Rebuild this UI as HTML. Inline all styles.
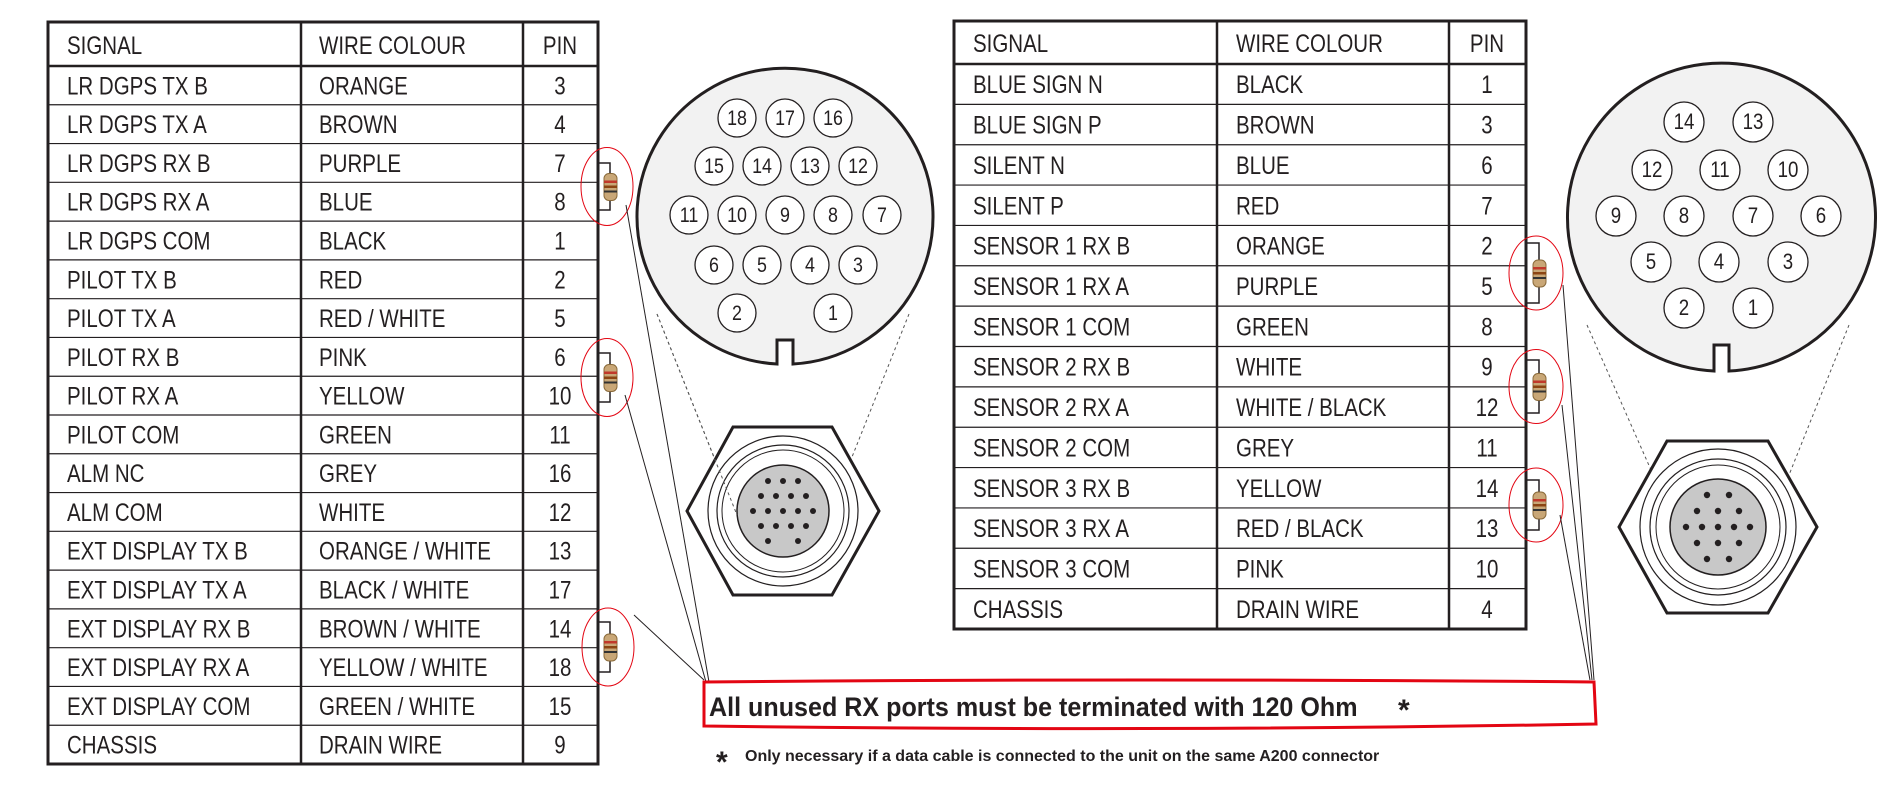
<!DOCTYPE html>
<html><head><meta charset="utf-8"><style>
html,body{margin:0;padding:0;background:#fff}
svg text{font-family:"Liberation Sans",sans-serif;fill:#231f20}
</style></head><body>
<svg width="1881" height="785" viewBox="0 0 1881 785" xmlns="http://www.w3.org/2000/svg">
<defs>
<g id="res">
<rect x="-6" y="-13" width="13" height="27" rx="5" fill="#c9a777" stroke="#8a6a3a" stroke-width="1"/>
<rect x="-6" y="-6" width="13" height="2.5" fill="#c0392b"/>
<rect x="-6" y="-1" width="13" height="2.5" fill="#8b4513"/>
<rect x="-6" y="4" width="13" height="2" fill="#333"/>
</g>
</defs>

<g stroke="#231f20" fill="none">
<rect x="48" y="22" width="550" height="742" stroke-width="3"/>
<line x1="301" y1="22" x2="301" y2="764" stroke-width="2.5"/>
<line x1="523" y1="22" x2="523" y2="764" stroke-width="2.5"/>
<line x1="48" y1="66" x2="598" y2="66" stroke-width="2.5"/>
</g>
<g stroke="#231f20" stroke-width="1.2" id="lrows"></g>
<g font-size="25" id="ltext"></g>

<g stroke="#231f20" fill="none">
<rect x="954" y="21" width="572" height="608" stroke-width="3"/>
<line x1="1217" y1="21" x2="1217" y2="629" stroke-width="2.5"/>
<line x1="1449" y1="21" x2="1449" y2="629" stroke-width="2.5"/>
<line x1="954" y1="64" x2="1526" y2="64" stroke-width="2.5"/>
</g>
<g stroke="#231f20" stroke-width="1.2" id="rrows"></g>
<g font-size="25" id="rtext"></g>

<path d="M777 364 A148 148 0 1 1 793 364 L793 340 L777 340 Z" fill="#f2f2f2" stroke="#231f20" stroke-width="3"/>
<g id="lpins" font-size="21"></g>
<line x1="657" y1="314" x2="737" y2="515" stroke="#555" stroke-width="1" stroke-dasharray="3,3"/>
<line x1="909" y1="314" x2="852" y2="457" stroke="#555" stroke-width="1" stroke-dasharray="3,3"/>
<g transform="translate(783,511)">
<polygon points="-50,-84 49,-84 96,0 49,84 -50,84 -96,0" fill="#fff" stroke="#231f20" stroke-width="3"/>
<circle r="75" fill="#fff" stroke="#231f20" stroke-width="1.2"/>
<circle r="66" fill="none" stroke="#231f20" stroke-width="1.2"/>
<circle r="61" fill="none" stroke="#231f20" stroke-width="1"/>
<ellipse rx="46" ry="46" fill="#c8c8c8" stroke="#231f20" stroke-width="1.5"/>
<g fill="#231f20" id="ldots"></g>
</g>
<line x1="657" y1="314" x2="737" y2="515" stroke="#555" stroke-width="1" stroke-dasharray="3,3"/>

<path d="M1714 371 A154 154 0 1 1 1729 371 L1729 345 L1714 345 Z" fill="#f2f2f2" stroke="#231f20" stroke-width="3"/>
<g id="rpins" font-size="22"></g>
<line x1="1587" y1="325" x2="1651" y2="470" stroke="#555" stroke-width="1" stroke-dasharray="3,3"/>
<line x1="1849" y1="325" x2="1789" y2="475" stroke="#555" stroke-width="1" stroke-dasharray="3,3"/>
<g transform="translate(1718,527)">
<polygon points="-51,-86 50,-86 99,0 50,86 -51,86 -99,0" fill="#fff" stroke="#231f20" stroke-width="3"/>
<circle r="78" fill="#fff" stroke="#231f20" stroke-width="1.2"/>
<circle r="68" fill="none" stroke="#231f20" stroke-width="1.2"/>
<circle r="62" fill="none" stroke="#231f20" stroke-width="1"/>
<circle r="48" fill="#c8c8c8" stroke="#231f20" stroke-width="1.5"/>
<g fill="#231f20" id="rdots"></g>
</g>

<g id="resg" stroke-width="1"></g>

<path d="M704 682 Q1150 678 1594 682 L1596 724 Q1150 732 704 726 Z" fill="#fff" stroke="#e30613" stroke-width="3"/>
<text x="709" y="716" font-size="27" font-weight="bold" fill="#000" transform="translate(709,0) scale(0.93,1) translate(-709,0)">All unused RX ports must be terminated with 120 Ohm</text>
<text x="1398" y="720" font-size="30" font-weight="bold" fill="#000">*</text>
<text x="716" y="772" font-size="30" font-weight="bold" fill="#000">*</text>
<text x="745" y="761" font-size="16" font-weight="bold" fill="#000">Only necessary if a data cable is connected to the unit on the same A200 connector</text>
</svg>
<script>
const NS="http://www.w3.org/2000/svg";
function el(p,t,a,txt){const e=document.createElementNS(NS,t);for(const k in a)e.setAttribute(k,a[k]);if(txt!==undefined)e.textContent=txt;document.getElementById(p).appendChild(e);return e;}
function tx(g,x,y,s,mid){el(g,"text",{x:0,y:0,"text-anchor":mid?"middle":"start",transform:`translate(${x},${y}) scale(0.82,1)`},s);}
const L=[["SIGNAL","WIRE COLOUR","PIN"],["LR DGPS TX  B","ORANGE","3"],["LR DGPS TX A","BROWN","4"],["LR DGPS RX B","PURPLE","7"],["LR DGPS RX A","BLUE","8"],["LR DGPS COM","BLACK","1"],["PILOT TX B","RED","2"],["PILOT TX A","RED / WHITE","5"],["PILOT RX B","PINK","6"],["PILOT RX A","YELLOW","10"],["PILOT  COM","GREEN","11"],["ALM NC","GREY","16"],["ALM COM","WHITE","12"],["EXT DISPLAY TX B","ORANGE / WHITE","13"],["EXT DISPLAY TX A","BLACK / WHITE","17"],["EXT DISPLAY RX B","BROWN / WHITE","14"],["EXT DISPLAY RX A","YELLOW / WHITE","18"],["EXT DISPLAY COM","GREEN / WHITE","15"],["CHASSIS","DRAIN WIRE","9"]];
let rh=(764-66)/18;
tx("ltext",67,54,L[0][0]);tx("ltext",319,54,L[0][1]);tx("ltext",560,54,L[0][2],1);
for(let i=1;i<L.length;i++){const y0=66+(i-1)*rh;if(i>1)el("lrows","line",{x1:48,y1:y0,x2:598,y2:y0});
const ty=y0+rh/2+9;tx("ltext",67,ty,L[i][0]);tx("ltext",319,ty,L[i][1]);tx("ltext",560,ty,L[i][2],1);}
const R=[["SIGNAL","WIRE COLOUR","PIN"],["BLUE SIGN N","BLACK","1"],["BLUE SIGN P","BROWN","3"],["SILENT N","BLUE","6"],["SILENT P","RED","7"],["SENSOR 1 RX B","ORANGE","2"],["SENSOR 1 RX A","PURPLE","5"],["SENSOR 1 COM","GREEN","8"],["SENSOR 2 RX B","WHITE","9"],["SENSOR 2 RX A","WHITE / BLACK","12"],["SENSOR 2 COM","GREY","11"],["SENSOR 3 RX B","YELLOW","14"],["SENSOR 3 RX A","RED / BLACK","13"],["SENSOR 3 COM","PINK","10"],["CHASSIS","DRAIN WIRE","4"]];
let rr=(629-64)/14;
tx("rtext",973,52,R[0][0]);tx("rtext",1236,52,R[0][1]);tx("rtext",1487,52,R[0][2],1);
for(let i=1;i<R.length;i++){const y0=64+(i-1)*rr;if(i>1)el("rrows","line",{x1:954,y1:y0,x2:1526,y2:y0});
const ty=y0+rr/2+9;tx("rtext",973,ty,R[i][0]);tx("rtext",1236,ty,R[i][1]);tx("rtext",1487,ty,R[i][2],1);}
function pin(g,x,y,r,n){el(g,"circle",{cx:x,cy:y,r:r,fill:"#fff",stroke:"#231f20","stroke-width":1.3});el(g,"text",{x:0,y:0,"text-anchor":"middle",transform:`translate(${x},${y+7}) scale(0.85,1)`},n);}
[[18,737,118],[17,785,118],[16,833,118],[15,714,166],[14,762,166],[13,810,166],[12,858,166],[11,689,215],[10,737,215],[9,785,215],[8,833,215],[7,882,215],[6,714,265],[5,762,265],[4,810,265],[3,858,265],[2,737,313],[1,833,313]].forEach(p=>pin("lpins",p[1],p[2],19,p[0]));
[[14,1684,122],[13,1753,122],[12,1652,170],[11,1720,170],[10,1788,170],[9,1616,216],[8,1684,216],[7,1753,216],[6,1821,216],[5,1651,262],[4,1719,262],[3,1788,262],[2,1684,308],[1,1753,308]].forEach(p=>pin("rpins",p[1],p[2],20,p[0]));
[[-30,[-15,0,15]],[-15,[-22,-7,8,23]],[0,[-30,-15,0,15,30]],[15,[-22,-7,8,23]],[30,[-15,15]]].forEach(r=>r[1].forEach(x=>el("ldots","circle",{cx:x,cy:r[0],r:3})));
[[-32,[-11,11]],[-16,[-21,0,21]],[0,[-32,-16,0,16,32]],[16,[-21,0,21]],[32,[-11,11]]].forEach(r=>r[1].forEach(x=>el("rdots","circle",{cx:x,cy:r[0],r:3.2})));
function resistor(tx,y1,y2,ex,rx,ry,lx,ly){const bx=tx+13,my=(y1+y2)/2;
el("resg","polyline",{points:`${tx},${y1} ${bx},${y1} ${bx},${y2} ${tx},${y2}`,fill:"none",stroke:"#231f20","stroke-width":1.5});
el("resg","use",{href:"#res",x:bx,y:my});
el("resg","ellipse",{cx:ex,cy:my,rx:rx,ry:ry,fill:"none",stroke:"#e30613","stroke-width":1});
el("resg","line",{x1:lx[0],y1:lx[1],x2:ly[0],y2:ly[1],stroke:"#231f20","stroke-width":1});}
resistor(597,163,210,607,26,39,[626,205],[709,682]);
resistor(597,353,402,607,26,39,[625,395],[706,682]);
resistor(597,622,672,608,26,39,[634,615],[704,680]);
resistor(1526,243,303,1536,27,37,[1563,285],[1594,680]);
resistor(1526,360,413,1536,27,37,[1562,405],[1592,680]);
resistor(1526,480,530,1536,27,37,[1560,515],[1590,680]);
</script>
</body></html>
